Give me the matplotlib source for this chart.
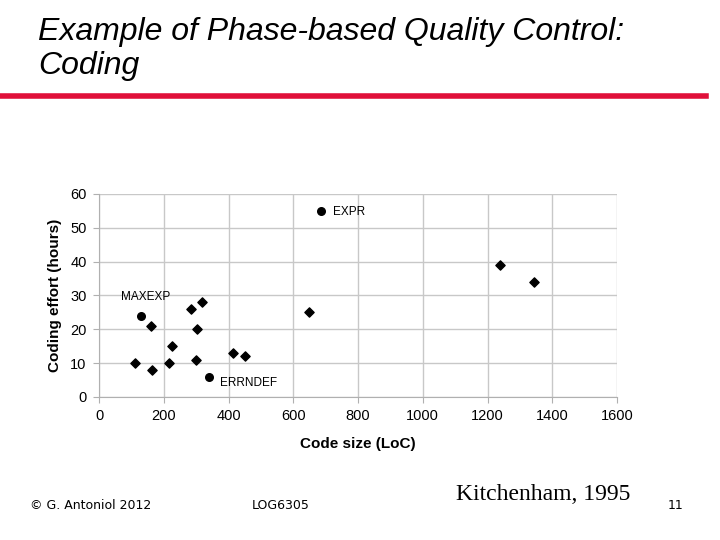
import matplotlib
matplotlib.use('Agg')
import matplotlib.pyplot as plt
from matplotlib.lines import Line2D

# projects: code size (LoC) vs coding effort (hours)
code_size = [110, 160, 165, 215, 225, 285, 318, 303, 300, 413, 450, 650, 1238, 1343]
effort = [10, 21, 8, 10, 15, 26, 28, 20, 11, 13, 12, 25, 39, 34]

# outliers, labelled
out_names = ['MAXEXP', 'ERRNDEF', 'EXPR']
out_size = [130, 340, 685]
out_effort = [24, 6, 55]

x_ticks = [0, 200, 400, 600, 800, 1000, 1200, 1400, 1600]
y_ticks = [0, 10, 20, 30, 40, 50, 60]

fig = plt.figure(figsize=(7.2, 5.4), dpi=100)

# slide title and red rule
fig.text(0.053, 0.969, 'Example of Phase-based Quality Control:\nCoding',
         fontsize=23, style='italic', family='Liberation Sans',
         va='top', ha='left', linespacing=1.2)
fig.add_artist(Line2D([0, 0.98], [0.823, 0.823], color='#e0103a', lw=4))

ax = fig.add_axes([0.1375, 0.265, 0.7195, 0.376])
ax.scatter(code_size, effort, marker='D', s=22, color='black', zorder=3)
ax.scatter(out_size, out_effort, marker='o', s=30, color='black', zorder=3)

ax.text(out_size[0] - 62, out_effort[0] + 5.5, out_names[0], fontsize=8.5,
        family='Liberation Sans', va='center')
ax.text(out_size[1] + 35, out_effort[1] - 1.8, out_names[1], fontsize=8.5,
        family='Liberation Sans', va='center')
ax.text(out_size[2] + 38, out_effort[2] - 0.5, out_names[2], fontsize=8.5,
        family='Liberation Sans', va='center')

ax.set_xlim(0, 1600)
ax.set_ylim(0, 60)
ax.set_xticks(x_ticks)
ax.set_yticks(y_ticks)
ax.grid(True, color='#c8c8c8', lw=1)
ax.set_axisbelow(True)
for s in ['top', 'right']:
    ax.spines[s].set_visible(False)
for s in ['left', 'bottom']:
    ax.spines[s].set_color('#b0b0b0')
ax.tick_params(colors='#b0b0b0', labelcolor='black', labelsize=10.5, length=4, pad=5)
for lab in ax.get_xticklabels() + ax.get_yticklabels():
    lab.set_family('Liberation Sans')
ax.set_xlabel('Code size (LoC)', fontsize=11, fontweight='bold',
              family='Liberation Sans', labelpad=10)
ax.set_ylabel('Coding effort (hours)', fontsize=11, fontweight='bold',
              family='Liberation Sans', labelpad=6)

# footer
fig.text(0.042, 0.058, '\u00a9 G. Antoniol 2012', fontsize=9, family='DejaVu Sans')
fig.text(0.35, 0.058, 'LOG6305', fontsize=9, family='DejaVu Sans')
fig.text(0.634, 0.074, 'Kitchenham, 1995', fontsize=17, family='Liberation Serif')
fig.text(0.927, 0.058, '11', fontsize=9, family='DejaVu Sans')

fig.savefig('out.png', dpi=100)
